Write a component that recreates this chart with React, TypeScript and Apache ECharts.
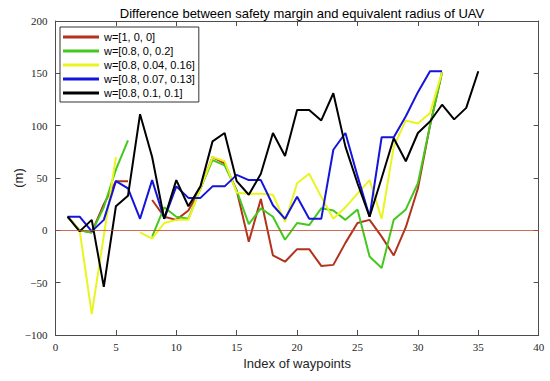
import React, { useEffect, useRef } from "react";
import * as echarts from "echarts";

const indexes = [1,2,3,4,5,6,7,8,9,10,11,12,13,14,15,16,17,18,19,20,21,22,23,24,25,26,27,28,29,30,31,32,33,34,35];

const seriesNames = ["w=[1, 0, 0]", "w=[0.8, 0, 0.2]", "w=[0.8, 0.04, 0.16]", "w=[0.8, 0.07, 0.13]", "w=[0.8, 0.1, 0.1]"];
const seriesColors = ["#b3321c", "#45c81e", "#e9f51e", "#1414dc", "#000000"];

const red = [13, 0, -2, 25, 47, 47, null, 29, 13, 10, 19, 40, 70, 64, 38, -11, 30, -24, -30, -18, -18, -34, -33, -12, 7, 10, -6, -24, 3, 40, 100, 151];
const green = [13, 0, -2, 22, 58, 86, null, -6, 22, 13, 11, 40, 67, 62, 38, 6, 21, 13, -9, 7, 5, 21, 19, 10, 20, -25, -36, 10, 20, 45, 100, 151];
const yellow = [13, 0, -80, -5, 70, null, -2, -8, 7, 10, 10, 40, 70, 66, 36, 35, 35, 34, 8, 45, 54, 32, 11, 22, 35, 48, 11, 80, 105, 102, 112, 151];
const blue = [13, 13, -1, 10, 47, 40, 11, 48, 11, 42, 31, 31, 42, 42, 53, 48, 48, 24, 11, 32, 11, 11, 77, 93, 52, 13, 89, 89, 109, 132, 152, 152];
const black = [13, -1, 10, -54, 23, 33, 111, 70, 11, 48, 23, 42, 85, 93, 47, 34, 54, 93, 71, 115, 115, 105, 131, 80, 45, 13, 50, 88, 66, 93, 104, 120, 106, 117, 152];

const allValues = [red, green, yellow, blue, black];

const xTicks = { min: 0, max: 40, interval: 5 };
const yTicks = { min: -100, max: 200, interval: 50 };

const fmt = (v: number) => (v < 0 ? "\u2212" + Math.abs(v) : String(v));

export default function App() {
  const ref = useRef<HTMLDivElement>(null);
  useEffect(() => {
    if (!ref.current) return;
    const chart = echarts.init(ref.current, undefined, { renderer: "svg" });
    const axisLineStyle = { color: "#4d4d4d", width: 1 };
    const labelFont = { fontFamily: "Liberation Serif", fontSize: 11, color: "#262626" };
    const series: any[] = allValues.map((vals, k) => ({
      name: seriesNames[k],
      type: "line",
      xAxisIndex: 0,
      yAxisIndex: 0,
      data: vals.map((v, j) => [indexes[j], v === null ? "-" : v]),
      showSymbol: false,
      symbol: "none",
      connectNulls: false,
      lineStyle: { color: seriesColors[k], width: 2 },
      itemStyle: { color: seriesColors[k] },
      emphasis: { disabled: true },
    }));
    series[0].markLine = {
      silent: true,
      symbol: "none",
      label: { show: false },
      lineStyle: { color: "#c8462a", width: 0.8, type: "solid" },
      data: [{ yAxis: 0 }],
    };
    chart.setOption({
      animation: false,
      title: {
        text: "Difference between safety margin and equivalent radius of UAV",
        left: 297,
        top: 2,
        textAlign: "center",
        textStyle: { fontFamily: "Liberation Sans", fontSize: 13, fontWeight: "normal", color: "#000" },
      },
      legend: {
        orient: "vertical",
        left: 60,
        top: 27,
        padding: [3, 4, 2, 3],
        itemGap: 0,
        itemWidth: 36,
        itemHeight: 3,
        icon: "rect",
        borderColor: "#333",
        borderWidth: 1,
        backgroundColor: "#fff",
        textStyle: { fontFamily: "Liberation Sans", fontSize: 11, color: "#000", lineHeight: 14 },
        data: seriesNames,
      },
      grid: { left: 55.5, right: 11.3, top: 21, bottom: 46, containLabel: false, outerBoundsMode: "none" },
      xAxis: [
        {
          type: "value",
          ...xTicks,
          position: "bottom",
          name: "Index of waypoints",
          nameLocation: "middle",
          nameGap: 22,
          nameMoveOverlap: false,
          nameTextStyle: { fontFamily: "Liberation Sans", fontSize: 13, color: "#262626" },
          axisLine: { show: true, onZero: false, lineStyle: axisLineStyle },
          axisTick: { show: true, inside: true, length: 5, lineStyle: axisLineStyle },
          axisLabel: { ...labelFont, margin: 6, formatter: fmt },
          splitLine: { show: false },
        },
        {
          type: "value",
          ...xTicks,
          position: "top",
          axisLine: { show: true, onZero: false, lineStyle: axisLineStyle },
          axisTick: { show: true, inside: true, length: 5, lineStyle: axisLineStyle },
          axisLabel: { show: false },
          splitLine: { show: false },
        },
      ],
      yAxis: [
        {
          type: "value",
          ...yTicks,
          position: "left",
          name: "(m)",
          nameLocation: "middle",
          nameGap: 31,
          nameMoveOverlap: false,
          nameTextStyle: { fontFamily: "Liberation Sans", fontSize: 13, color: "#262626" },
          axisLine: { show: true, onZero: false, lineStyle: axisLineStyle },
          axisTick: { show: true, inside: true, length: 5, lineStyle: axisLineStyle },
          axisLabel: { ...labelFont, margin: 8, formatter: fmt },
          splitLine: { show: false },
        },
        {
          type: "value",
          ...yTicks,
          position: "right",
          axisLine: { show: true, onZero: false, lineStyle: axisLineStyle },
          axisTick: { show: true, inside: true, length: 5, lineStyle: axisLineStyle },
          axisLabel: { show: false },
          splitLine: { show: false },
        },
      ],
      series,
    });
    return () => chart.dispose();
  }, []);
  return <div ref={ref} style={{ position: "absolute", left: 0, top: 0, width: 550, height: 381, background: "#fff" }} />;
}
